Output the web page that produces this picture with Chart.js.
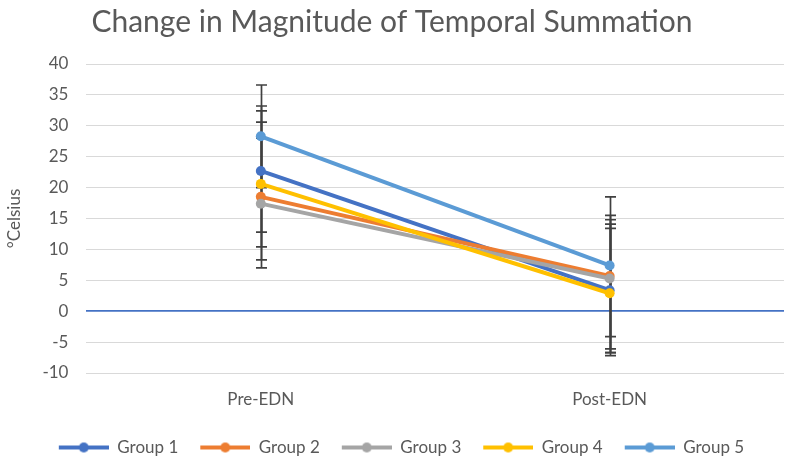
<!DOCTYPE html>
<html>
<head>
<meta charset="utf-8">
<script src="https://cdn.jsdelivr.net/npm/chart.js@4.4.1/dist/chart.umd.min.js"></script>
<style>
  html, body { margin: 0; padding: 0; background: #ffffff; }
  #wrap { width: 791px; height: 466px; position: relative; }
</style>
</head>
<body>
<div id="wrap"><canvas id="c" width="791" height="466"></canvas></div>
<script>
// ---- data ----
const categories = ['Pre-EDN', 'Post-EDN'];
const seriesNames = ['Group 1', 'Group 2', 'Group 3', 'Group 4', 'Group 5'];
const group1 = [22.7, 3.4];
const group2 = [18.5, 5.7];
const group3 = [17.4, 5.3];
const group4 = [20.6, 2.9];
const group5 = [28.3, 7.4];
// error bar extents (plus / minus) per group, per category
const errPlus1 = [10.5, 10.7];
const errMinus1 = [9.9, 10.6];
const errPlus2 = [13.9, 9.8];
const errMinus2 = [10.2, 11.8];
const errPlus3 = [10.6, 9.5];
const errMinus3 = [10.4, 12.0];
const errPlus4 = [10.0, 10.5];
const errMinus4 = [10.2, 9.6];
const errPlus5 = [8.3, 11.1];
const errMinus5 = [8.3, 11.5];
const yTicksMin = -10;
const yTicksMax = 40;
const yTickStep = 5;

const colors = ['#4472C4', '#ED7D31', '#A5A5A5', '#FFC000', '#5B9BD5'];
const values = [group1, group2, group3, group4, group5];
const plus = [errPlus1, errPlus2, errPlus3, errPlus4, errPlus5];
const minus = [errMinus1, errMinus2, errMinus3, errMinus4, errMinus5];

const FONT = 'Lato, "Liberation Sans", sans-serif';
const TEXT = '#595959';

function legendIcon(color) {
  const lead = 19;
  const cv = document.createElement('canvas');
  cv.width = 50 + lead; cv.height = 12;
  const g = cv.getContext('2d');
  g.strokeStyle = color; g.lineWidth = 4;
  g.beginPath(); g.moveTo(lead, 6); g.lineTo(lead + 50, 6); g.stroke();
  g.fillStyle = color;
  g.beginPath(); g.arc(lead + 25, 6, 5, 0, Math.PI * 2); g.fill();
  return cv;
}

const datasets = seriesNames.map((name, i) => ({
  label: name,
  data: values[i],
  errPlus: plus[i],
  errMinus: minus[i],
  borderColor: colors[i],
  backgroundColor: colors[i],
  borderWidth: 4,
  pointRadius: 5,
  pointHoverRadius: 5,
  pointBorderWidth: 0,
  pointBackgroundColor: colors[i],
  tension: 0,
  order: seriesNames.length - i,
  icon: legendIcon(colors[i])
}));

const errorBars = {
  id: 'errorBars',
  beforeDatasetsDraw(chart) {
    const ctx = chart.ctx;
    const y = chart.scales.y;
    ctx.save();
    ctx.strokeStyle = '#404040';
    ctx.lineWidth = 1.7;
    chart.data.datasets.forEach((ds, di) => {
      const meta = chart.getDatasetMeta(di);
      meta.data.forEach((pt, j) => {
        const v = ds.data[j];
        const top = y.getPixelForValue(v + ds.errPlus[j]);
        const bot = y.getPixelForValue(v - ds.errMinus[j]);
        const x = Math.round(pt.x) + 0.5;
        ctx.beginPath();
        ctx.moveTo(x, top); ctx.lineTo(x, bot);
        ctx.moveTo(x - 5.5, top); ctx.lineTo(x + 5.5, top);
        ctx.moveTo(x - 5.5, bot); ctx.lineTo(x + 5.5, bot);
        ctx.stroke();
      });
    });
    ctx.restore();
  }
};

new Chart(document.getElementById('c'), {
  type: 'line',
  data: { labels: categories, datasets },
  plugins: [errorBars],
  options: {
    responsive: false,
    animation: false,
    layout: { padding: { left: 0, right: 7, top: 0, bottom: 0 } },
    scales: {
      x: {
        offset: true,
        grid: { display: false, drawTicks: false },
        border: { display: false },
        ticks: { color: TEXT, font: { family: FONT, size: 17 }, padding: 16 },
        afterFit: (scale) => { scale.height = 63; }
      },
      y: {
        min: yTicksMin,
        max: yTicksMax,
        border: { display: false },
        grid: {
          drawTicks: false,
          color: (c) => c.tick && c.tick.value === 0 ? '#4472C4' : '#D9D9D9',
          lineWidth: (c) => c.tick && c.tick.value === 0 ? 1.8 : 1
        },
        ticks: { stepSize: yTickStep, color: TEXT, font: { family: FONT, size: 17 }, padding: 18 },
        title: { display: true, text: '°Celsius', color: TEXT, font: { family: FONT, size: 17 }, padding: { top: 4, bottom: 0 } }
      }
    },
    plugins: {
      title: {
        display: true,
        text: 'Change in Magnitude of Temporal Summation',
        color: TEXT,
        font: { family: FONT, size: 30, weight: 'normal' },
        padding: { top: 4, bottom: 24 }
      },
      legend: {
        position: 'bottom',
        labels: {
          usePointStyle: true,
          pointStyleWidth: 69,
          boxHeight: 12,
          padding: 3,
          color: TEXT,
          font: { family: FONT, size: 17 },
          generateLabels: (chart) => chart.data.datasets.map((ds, i) => ({
            text: ds.label,
            fontColor: TEXT,
            pointStyle: ds.icon,
            fillStyle: ds.borderColor,
            strokeStyle: ds.borderColor,
            lineWidth: 0,
            hidden: false,
            datasetIndex: i
          }))
        }
      },
      tooltip: { enabled: false }
    }
  }
});
</script>
</body>
</html>
